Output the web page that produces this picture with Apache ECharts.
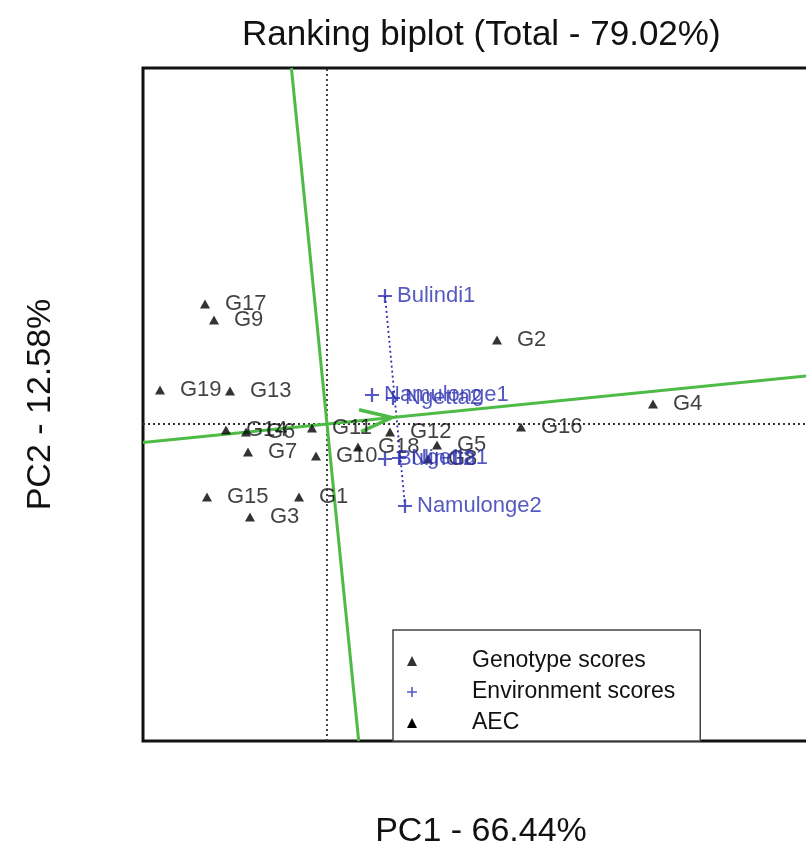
<!DOCTYPE html>
<html>
<head>
<meta charset="utf-8">
<script src="https://cdn.jsdelivr.net/npm/echarts@6/dist/echarts.min.js"></script>
<style>html,body{margin:0;padding:0;background:#fff}#c{width:806px;height:846px}</style>
</head>
<body>
<div id="c"></div>
<script>
// ---- data ----
const genoNames = ['G1','G2','G3','G4','G5','G6','G7','G8','G9','G10','G11','G12','G13','G14','G15','G16','G17','G18','G19'];
const genoPC1 = [-0.28, 1.70, -0.77, 3.26, 1.10, -0.81, -0.79, 1.01, -1.13, -0.11, -0.15, 0.63, -0.97, -1.01, -1.20, 1.94, -1.22, 0.31, -1.67];
const genoPC2 = [-0.73, 0.84, -0.93, 0.20, -0.21, -0.08, -0.28, -0.35, 1.04, -0.32, -0.04, -0.08, 0.33, -0.06, -0.73, -0.03, 1.20, -0.23, 0.34];
const envNames = ['Bulindi1','Bulindi2','Namulonge1','Namulonge2','Ngetta1','Ngetta2'];
const envPC1 = [0.58, 0.58, 0.45, 0.78, 0.72, 0.66];
const envPC2 = [1.28, -0.35, 0.29, -0.82, -0.34, 0.26];
const meanEnv = [0.65, 0.065]; // average environment coordinate (AEC arrow tip)
const axisRange = {xMin: -1.84, xMax: 4.92, yMin: -3.17, yMax: 3.56};
const titleText = 'Ranking biplot (Total - 79.02%)';
const xLabel = 'PC1 - 66.44%';
const yLabel = 'PC2 - 12.58%';

// ---- build ----
const FONT = '"Liberation Sans", Arial, sans-serif';
const BLUE = '#2a30b0';
const GREEN = '#4dbb45';
const TXT = '#111';
const slope = meanEnv[1] / meanEnv[0];
const R = axisRange;
const aecLine = [[R.xMin, slope * R.xMin], [R.xMax, slope * R.xMax]];
const ordLine = [[-slope * R.yMax, R.yMax], [-slope * R.yMin, R.yMin]];
// arrow head at the AEC tip (axes share the same scale, so geometry is isotropic)
const len = Math.hypot(meanEnv[0], meanEnv[1]);
const dir = [meanEnv[0] / len, meanEnv[1] / len];
const nrm = [-dir[1], dir[0]];
const headL = 0.32, headW = 0.11;
const arrowHead = [
  [meanEnv[0] - headL * dir[0] + headW * nrm[0], meanEnv[1] - headL * dir[1] + headW * nrm[1]],
  meanEnv,
  [meanEnv[0] - headL * dir[0] - headW * nrm[0], meanEnv[1] - headL * dir[1] - headW * nrm[1]]
];
const genoData = genoNames.map((n, i) => ({name: n, value: [genoPC1[i], genoPC2[i]]}));
const envData = envNames.map((n, i) => ({name: n, value: [envPC1[i], envPC2[i]]}));
const iB = envNames.indexOf('Bulindi1'), iN = envNames.indexOf('Namulonge2');
const plusPath = 'path://M4.2,0h1.6v4.2h4.2v1.6h-4.2v4.2h-1.6v-4.2h-4.2v-1.6h4.2z';

const chart = echarts.init(document.getElementById('c'), null, {renderer: 'canvas'});
chart.setOption({
  animation: false,
  backgroundColor: '#fff',
  title: {
    text: titleText, left: 237, top: 13,
    textStyle: {fontFamily: FONT, fontSize: 35, fontWeight: 'normal', color: TXT}
  },
  grid: {left: 143, top: 68, width: 676, height: 673, show: true, borderColor: '#111', borderWidth: 3,
    backgroundColor: 'transparent', outerBoundsMode: 'none', containLabel: false},
  xAxis: {
    type: 'value', min: R.xMin, max: R.xMax,
    name: xLabel, nameLocation: 'middle', nameGap: 74,
    nameTextStyle: {fontFamily: FONT, fontSize: 34, color: TXT},
    axisLine: {show: false}, axisTick: {show: false}, axisLabel: {show: false}, splitLine: {show: false}
  },
  yAxis: {
    type: 'value', min: R.yMin, max: R.yMax,
    name: yLabel, nameLocation: 'middle', nameGap: 85, nameRotate: 90,
    nameTextStyle: {fontFamily: FONT, fontSize: 34, color: TXT},
    axisLine: {show: false}, axisTick: {show: false}, axisLabel: {show: false}, splitLine: {show: false}
  },
  legend: {
    left: 393, top: 630, orient: 'vertical',
    backgroundColor: '#fff', borderColor: '#444', borderWidth: 1.5, borderRadius: 0,
    padding: [19, 25, 6, 14], itemGap: 7, itemWidth: 10, itemHeight: 10,
    formatter: name => '{s|}' + name,
    textStyle: {fontFamily: FONT, fontSize: 23, color: TXT, lineHeight: 24, rich: {s: {width: 50}}},
    data: [
      {name: 'Genotype scores', icon: 'triangle', itemStyle: {color: '#000'}},
      {name: 'Environment scores', icon: plusPath, itemStyle: {color: BLUE}},
      {name: 'AEC', icon: 'triangle', itemStyle: {color: '#000'}}
    ],
    selectedMode: false, z: 1
  },
  series: [
    {
      type: 'line', name: 'hzero', data: [[R.xMin, 0], [R.xMax, 0]], symbol: 'none', silent: true,
      lineStyle: {color: '#333', width: 1.8, type: [2, 3]}, z: 1
    },
    {
      type: 'line', name: 'vzero', data: [[0, R.yMin], [0, R.yMax]], symbol: 'none', silent: true,
      lineStyle: {color: '#333', width: 1.8, type: [2, 3]}, z: 1
    },
    {
      type: 'line', name: 'envLink', data: [envData[iB].value, envData[iN].value], symbol: 'none', silent: true,
      lineStyle: {color: BLUE, width: 1.8, type: [2, 3]}, z: 2
    },
    {
      type: 'line', name: 'AEC', data: aecLine, symbol: 'none', silent: true,
      lineStyle: {color: GREEN, width: 3}, z: 3
    },
    {
      type: 'line', name: 'AECord', data: ordLine, symbol: 'none', silent: true,
      lineStyle: {color: GREEN, width: 3}, z: 3
    },
    {
      type: 'line', name: 'AECarrow', data: arrowHead, symbol: 'none', silent: true,
      lineStyle: {color: GREEN, width: 3.5, join: 'miter'}, z: 4
    },
    {
      type: 'scatter', name: 'Genotype scores', data: genoData,
      symbol: 'triangle', symbolSize: [10, 9], itemStyle: {color: '#000'},
      label: {show: true, position: 'right', distance: 15, formatter: '{b}',
        fontFamily: FONT, fontSize: 22, color: TXT},
      labelLayout: {hideOverlap: false}, z: 6
    },
    {
      type: 'scatter', name: 'Environment scores', data: envData,
      symbol: plusPath, symbolSize: 14, itemStyle: {color: BLUE},
      label: {show: true, position: 'right', distance: 5, formatter: '{b}',
        fontFamily: FONT, fontSize: 22, color: BLUE},
      z: 7
    }
  ]
});
</script>
</body>
</html>
